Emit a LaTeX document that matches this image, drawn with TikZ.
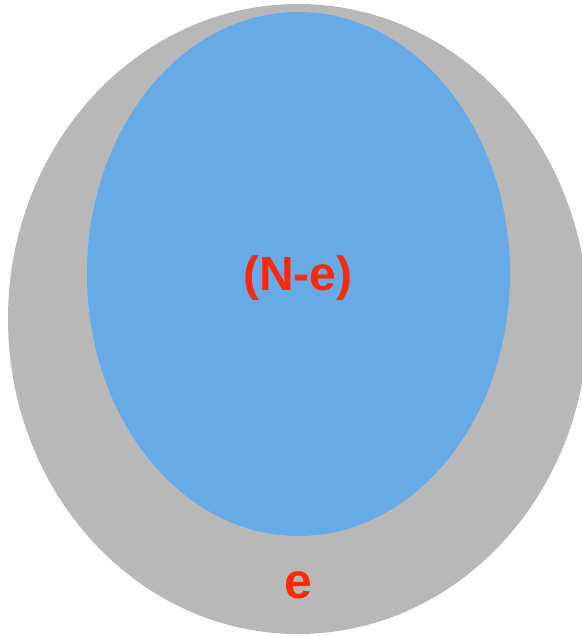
\documentclass[tikz,border=0pt]{standalone}
\usepackage{fontspec}
\setmainfont{Liberation Sans}
\usetikzlibrary{shapes.geometric}
\definecolor{outergray}{HTML}{B8B8B8}
\definecolor{innerblue}{HTML}{66AAE8}
\definecolor{labelred}{HTML}{FF2A00}
\tikzset{
  setblob/.style={ellipse, inner sep=0pt, draw=none},
  setlabel/.style={text=labelred, font=\bfseries, inner sep=0pt}
}
\begin{document}
\begin{tikzpicture}[x=1pt, y=-1pt]
  \useasboundingbox (0,0) rectangle (582,636);
  \clip (0,0) rectangle (582,636);
  \node[setblob, fill=outergray, minimum width=580pt, minimum height=630pt] (whole) at (298,319) {};
  \node[setblob, fill=innerblue, minimum width=423pt, minimum height=524pt] (part) at (298.5,274) {};
  \node[setlabel, font=\bfseries\fontsize{48}{56}\selectfont] (rest) at (298,278) {(N-e)};
  \node[setlabel, font=\bfseries\fontsize{50}{58}\selectfont] (edge) at (298,585) {e};
\end{tikzpicture}
\end{document}
